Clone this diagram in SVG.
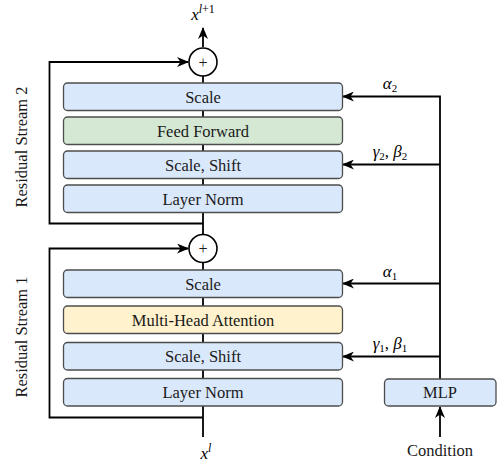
<svg xmlns="http://www.w3.org/2000/svg" width="498" height="467" viewBox="0 0 498 467">
<defs>
<marker id="arr" viewBox="0 0 12 10" refX="11" refY="5" markerWidth="12" markerHeight="10" markerUnits="userSpaceOnUse" orient="auto">
<path d="M0,0 L12,5 L0,10 L3.5,5 Z" fill="#000"/>
</marker>
<style>
.box{stroke:#4d4d4d;stroke-width:1.3}
.blue{fill:#dae8fc}
.green{fill:#d5e8d4}
.yellow{fill:#fff2cc}
.ln{fill:none;stroke:#000;stroke-width:1.8}
.plus{fill:#fff;stroke:#000;stroke-width:1.6}
</style>
</defs>
<rect width="498" height="467" fill="#fff"/>
<g id="connectors">
<line class="ln" x1="203" y1="437" x2="203" y2="48"/>
<line class="ln" x1="203" y1="47" x2="203" y2="28" marker-end="url(#arr)"/>
<polyline class="ln" points="203,223.5 49.5,223.5 49.5,62 188,62" marker-end="url(#arr)"/>
<polyline class="ln" points="203,417.5 49.5,417.5 49.5,248.5 188,248.5" marker-end="url(#arr)"/>
<polyline class="ln" points="440,379 440,96.5 343,96.5" marker-end="url(#arr)"/>
<line class="ln" x1="440" y1="164.5" x2="343" y2="164.5" marker-end="url(#arr)"/>
<line class="ln" x1="440" y1="283.5" x2="343" y2="283.5" marker-end="url(#arr)"/>
<line class="ln" x1="440" y1="356.5" x2="343" y2="356.5" marker-end="url(#arr)"/>
<line class="ln" x1="440" y1="437" x2="440" y2="407" marker-end="url(#arr)"/>
</g>
<g font-family="Liberation Serif" font-size="16.5" fill="#1a1a1a" text-anchor="middle">
<g id="add2"><circle class="plus" cx="203" cy="62" r="14"/><text x="203" y="67.5" font-size="16">+</text></g>
<g id="add1"><circle class="plus" cx="203" cy="248.5" r="14"/><text x="203" y="254" font-size="16">+</text></g>
<g id="scale2"><rect class="box blue" x="63.5" y="83" width="279" height="27.5" rx="4"/><text x="203" y="102.5">Scale</text></g>
<g id="ff"><rect class="box green" x="63.5" y="117" width="279" height="27.5" rx="4"/><text x="203" y="136.5">Feed Forward</text></g>
<g id="scaleshift2"><rect class="box blue" x="63.5" y="151" width="279" height="27.5" rx="4"/><text x="203" y="170.5">Scale, Shift</text></g>
<g id="ln2"><rect class="box blue" x="63.5" y="185" width="279" height="27.5" rx="4"/><text x="203" y="204.5">Layer Norm</text></g>
<g id="scale1"><rect class="box blue" x="63.5" y="270" width="279" height="27.5" rx="4"/><text x="203" y="289.5">Scale</text></g>
<g id="mha"><rect class="box yellow" x="63.5" y="306" width="279" height="27.5" rx="4"/><text x="203" y="325.5">Multi-Head Attention</text></g>
<g id="scaleshift1"><rect class="box blue" x="63.5" y="342.5" width="279" height="27.5" rx="4"/><text x="203" y="362">Scale, Shift</text></g>
<g id="ln1"><rect class="box blue" x="63.5" y="378.5" width="279" height="27.5" rx="4"/><text x="203" y="398">Layer Norm</text></g>
<g id="mlp"><rect class="box blue" x="384.5" y="379" width="111.5" height="27" rx="4"/><text x="440" y="398">MLP</text></g>
<g id="labels">
<text x="440" y="456">Condition</text>
<text transform="translate(27,147) rotate(-90)">Residual Stream 2</text>
<text transform="translate(27,337) rotate(-90)">Residual Stream 1</text>
<g font-style="italic" font-size="17" fill="#000">
<text x="203" y="20">x<tspan font-size="12" dy="-7">l</tspan><tspan font-size="12" font-style="normal">+1</tspan></text>
<text x="206" y="459">x<tspan font-size="12" dy="-7">l</tspan></text>
<text x="390" y="89">α<tspan font-size="11" font-style="normal" dy="3">2</tspan></text>
<text x="390" y="157">γ<tspan font-size="11" font-style="normal" dy="3">2</tspan><tspan dy="-3" font-style="normal">, </tspan>β<tspan font-size="11" font-style="normal" dy="3">2</tspan></text>
<text x="390" y="277">α<tspan font-size="11" font-style="normal" dy="3">1</tspan></text>
<text x="390" y="349">γ<tspan font-size="11" font-style="normal" dy="3">1</tspan><tspan dy="-3" font-style="normal">, </tspan>β<tspan font-size="11" font-style="normal" dy="3">1</tspan></text>
</g>
</g>
</g>
</svg>
